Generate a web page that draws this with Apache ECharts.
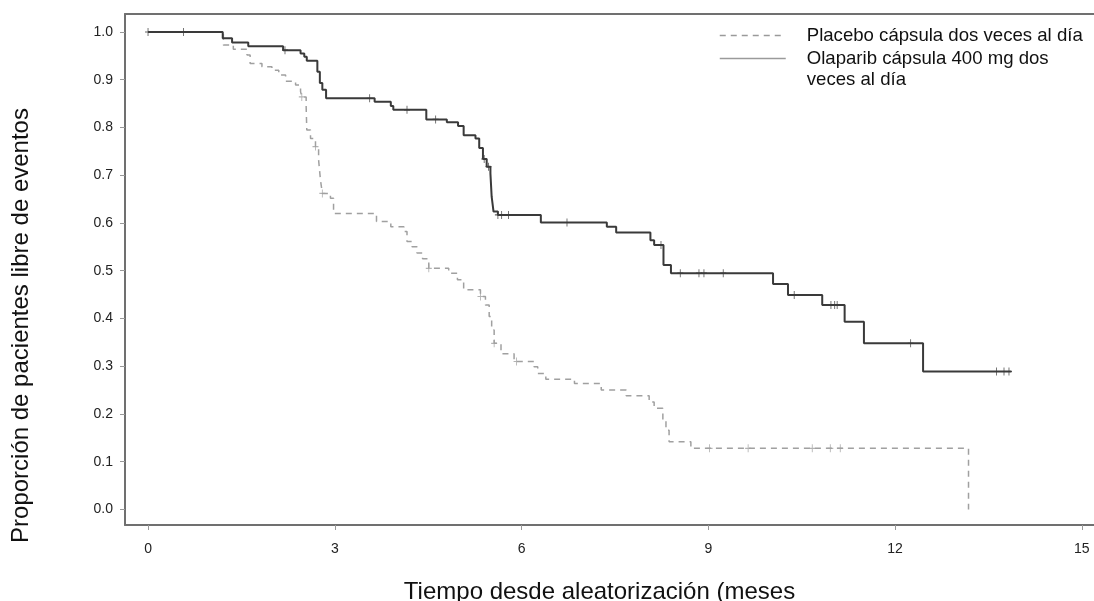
<!DOCTYPE html>
<html>
<head>
<meta charset="utf-8">
<script src="https://cdn.jsdelivr.net/npm/echarts@6/dist/echarts.min.js"></script>
<style>
  html, body { margin: 0; padding: 0; background: #fff; }
  #chart { width: 1094px; height: 601px; }
</style>
</head>
<body>
<div id="chart"></div>
<script>
  // [mes, proporción]: el valor vale desde ese mes hasta el siguiente punto
  var olaparibSteps = [
    [0, 1.0], [1.20, 0.987], [1.35, 0.978], [1.61, 0.970], [2.17, 0.962], [2.45, 0.955],
    [2.51, 0.948], [2.55, 0.940], [2.72, 0.917], [2.76, 0.893], [2.80, 0.879], [2.86, 0.861],
    [3.64, 0.854], [3.90, 0.845], [3.94, 0.837], [4.47, 0.817], [4.80, 0.811], [4.98, 0.803],
    [5.07, 0.784], [5.26, 0.777], [5.32, 0.757], [5.38, 0.734], [5.44, 0.718], [5.50, 0.704],
    [5.52, 0.655], [5.55, 0.624], [5.62, 0.617], [6.31, 0.601], [7.37, 0.592], [7.52, 0.580],
    [8.07, 0.564], [8.13, 0.554], [8.28, 0.512], [8.40, 0.495], [10.04, 0.472], [10.28, 0.449],
    [10.83, 0.428], [11.19, 0.393], [11.50, 0.348], [12.45, 0.289], [13.87, 0.289]
  ];
  var olaparibCensored = [
    [0, 1], [0.57, 1], [2.20, 0.962], [3.56, 0.861], [4.16, 0.837], [4.62, 0.817],
    [5.40, 0.734], [5.47, 0.718], [5.62, 0.617], [5.68, 0.617], [5.79, 0.617], [6.73, 0.601],
    [8.24, 0.554], [8.55, 0.495], [8.85, 0.495], [8.93, 0.495], [9.24, 0.495], [10.38, 0.449],
    [10.97, 0.428], [11.03, 0.428], [11.07, 0.428], [12.25, 0.348], [13.63, 0.289],
    [13.75, 0.289], [13.83, 0.289]
  ];
  var placeboSteps = [
    [0, 1.0], [1.21, 0.973], [1.37, 0.964], [1.59, 0.952], [1.64, 0.934], [1.83, 0.927],
    [1.99, 0.920], [2.10, 0.910], [2.21, 0.897], [2.37, 0.889], [2.45, 0.875], [2.47, 0.864],
    [2.54, 0.844], [2.55, 0.795], [2.61, 0.777], [2.69, 0.760], [2.74, 0.732], [2.77, 0.690],
    [2.80, 0.662], [2.93, 0.652], [2.98, 0.620], [3.67, 0.603], [3.90, 0.592], [4.11, 0.582],
    [4.16, 0.561], [4.24, 0.550], [4.32, 0.537], [4.41, 0.525], [4.51, 0.505], [4.83, 0.495],
    [4.97, 0.481], [5.07, 0.460], [5.34, 0.446], [5.42, 0.428], [5.48, 0.404], [5.52, 0.376],
    [5.56, 0.348], [5.67, 0.326], [5.88, 0.310], [6.20, 0.299], [6.26, 0.285], [6.39, 0.273],
    [6.85, 0.264], [7.28, 0.250], [7.68, 0.238], [8.05, 0.225], [8.13, 0.212], [8.27, 0.187],
    [8.32, 0.166], [8.37, 0.142], [8.72, 0.128], [13.18, 0.0]
  ];
  var placeboCensored = [
    [2.47, 0.864], [2.69, 0.760], [2.80, 0.662], [4.51, 0.505], [5.34, 0.446], [5.56, 0.348],
    [5.92, 0.310], [9.02, 0.128], [9.64, 0.128], [10.67, 0.128], [10.96, 0.128], [11.12, 0.128]
  ];
  var xTicks = [0, 3, 6, 9, 12, 15];
  var yTicks = [0, 0.1, 0.2, 0.3, 0.4, 0.5, 0.6, 0.7, 0.8, 0.9, 1.0];

  var placeboName = 'Placebo cápsula dos veces al día';
  var olaparibName = 'Olaparib cápsula 400 mg dos veces al día';
  var font = '"Liberation Sans", Arial, sans-serif';
  var censorSymbol = 'path://M5,0L5,10M0,5L10,5';
  var frameLine = {show: true, onZero: false, lineStyle: {color: '#707070', width: 2}};

  var chart = echarts.init(document.getElementById('chart'));
  chart.setOption({
    animation: false,
    textStyle: {fontFamily: font},
    grid: {left: 125, top: 14, right: -4, bottom: 76, containLabel: false, outerBoundsMode: 'none'},
    legend: [{
      left: 719, top: 26, padding: 0,
      itemWidth: 66, itemHeight: 10,
      data: [placeboName],
      itemStyle: {opacity: 0},
      lineStyle: {color: '#9a9a9a', width: 1.5},
      textStyle: {fontFamily: font, fontSize: 18.6, color: '#111', padding: [0, 0, 0, 16]}
    }, {
      left: 719, top: 27, padding: 0,
      itemWidth: 66, itemHeight: 10,
      data: [olaparibName],
      // primera línea vacía para que el icono quede a la altura de "Olaparib"
      formatter: function () { return '\nOlaparib cápsula 400 mg dos\nveces al día'; },
      itemStyle: {opacity: 0},
      lineStyle: {color: '#9a9a9a', width: 1.5},
      textStyle: {fontFamily: font, fontSize: 18.6, color: '#111', lineHeight: 21, padding: [0, 0, 0, 16]}
    }],
    xAxis: [{
      type: 'value',
      min: -0.37, max: 15.26,
      name: 'Tiempo desde aleatorización (meses',
      nameLocation: 'middle',
      nameGap: 55,
      nameTextStyle: {fontSize: 24, color: '#111', padding: [0, 24, 0, 0]},
      axisLine: frameLine,
      axisTick: {show: true, length: 5, customValues: xTicks, lineStyle: {color: '#999'}},
      axisLabel: {customValues: xTicks, margin: 17, fontSize: 14, color: '#222'},
      splitLine: {show: false}
    }, {
      type: 'value',
      position: 'top',
      min: -0.37, max: 15.26,
      axisLine: frameLine,
      axisTick: {show: false},
      axisLabel: {show: false},
      splitLine: {show: false}
    }],
    yAxis: {
      type: 'value',
      min: -0.0325, max: 1.0377,
      name: 'Proporción de pacientes libre de eventos',
      nameLocation: 'middle',
      nameGap: 92,
      nameTextStyle: {fontSize: 24, color: '#111', padding: [0, 112, 0, 0]},
      axisLine: frameLine,
      axisTick: {show: true, length: 5, customValues: yTicks, lineStyle: {color: '#999'}},
      axisLabel: {
        customValues: yTicks, margin: 12, fontSize: 14, color: '#222',
        formatter: function (v) { return v.toFixed(1); }
      },
      splitLine: {show: false}
    },
    series: [{
      name: placeboName,
      type: 'line',
      step: 'end',
      symbol: 'none',
      data: placeboSteps,
      itemStyle: {color: '#a0a0a0'},
      lineStyle: {color: '#a0a0a0', width: 1.5, type: [6, 5]}
    }, {
      name: 'Placebo censurado',
      type: 'scatter',
      symbol: censorSymbol,
      symbolSize: [6, 8],
      data: placeboCensored,
      itemStyle: {color: 'rgba(0,0,0,0)', borderColor: '#a0a0a0', borderWidth: 1}
    }, {
      name: olaparibName,
      type: 'line',
      step: 'end',
      symbol: 'none',
      data: olaparibSteps,
      itemStyle: {color: '#3a3a3a'},
      lineStyle: {color: '#3a3a3a', width: 2}
    }, {
      name: 'Olaparib censurado',
      type: 'scatter',
      symbol: censorSymbol,
      symbolSize: [6, 8],
      data: olaparibCensored,
      itemStyle: {color: 'rgba(0,0,0,0)', borderColor: '#3a3a3a', borderWidth: 1}
    }]
  });
</script>
</body>
</html>
